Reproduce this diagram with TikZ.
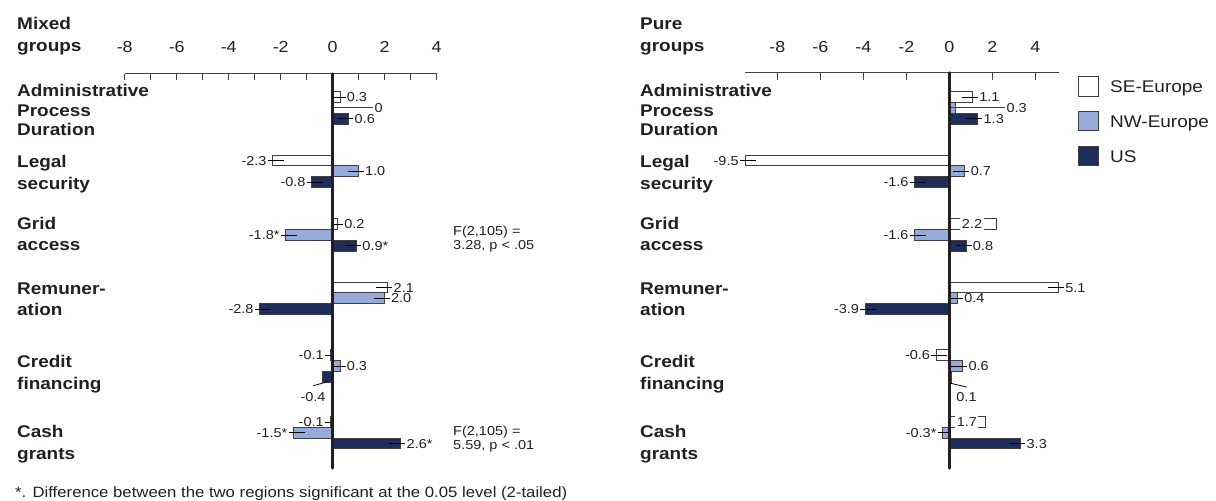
\documentclass[tikz,border=0pt]{standalone}
\usepackage{fontspec}
\setmainfont{Liberation Sans}[FakeStretch=1.12]
\definecolor{ink}{RGB}{35,31,32}
\definecolor{nwfill}{RGB}{150,171,217}
\definecolor{usfill}{RGB}{30,45,92}
\definecolor{edge}{RGB}{64,64,64}
\tikzset{
 cat/.style={font=\fontsize{17}{20}\selectfont\bfseries, text=ink, anchor=base west, inner sep=0pt},
 ticklab/.style={font=\fontsize{16}{19}\selectfont, text=ink, anchor=base, inner sep=0pt},
 vlab/.style={font=\fontsize{13}{15}\selectfont, text=ink, inner sep=1pt, text height=9.3bp, text depth=0pt},
 barbox/.style={draw=edge, line width=1bp},
 leader/.style={draw=black, line width=0.8bp},
 zeroline/.style={draw=ink, line width=3.5bp, line cap=round},
 axisline/.style={draw=ink!85, line width=1bp},
 legtext/.style={font=\fontsize{17}{20}\selectfont, text=ink, anchor=base west, inner sep=0pt},
 note/.style={font=\fontsize{13}{15}\selectfont, text=ink, anchor=base west, inner sep=0pt},
 foot/.style={font=\fontsize{15}{18}\selectfont, text=ink, anchor=base west, inner sep=0pt},
}
% #1 x0, #2 scale, #3 ytop, #4 value, #5 fill, #6 label
\newcommand\posbar[6]{%
 \pgfmathsetmacro\xe{#1+#2*#4}%
 \pgfmathsetmacro\xi{max(#1,\xe-11)}%
 \pgfmathsetmacro\yc{#3+5.35}%
 \draw[barbox,fill=#5] (#1,#3) rectangle (\xe,#3+10.7);
 \draw[leader] (\xi,\yc) -- (\xe+5,\yc) node[vlab,anchor=west]{#6};
}
\newcommand\negbar[6]{%
 \pgfmathsetmacro\xe{#1+#2*#4}%
 \pgfmathsetmacro\xi{min(#1,\xe+11)}%
 \pgfmathsetmacro\yc{#3+5.35}%
 \draw[barbox,fill=#5] (#1,#3) rectangle (\xe,#3+10.7);
 \draw[leader] (\xi,\yc) -- (\xe-5,\yc) node[vlab,anchor=east]{#6};
}
\newcommand\inbar[6]{%
 \pgfmathsetmacro\xe{#1+#2*#4}%
 \pgfmathsetmacro\xm{#1+0.48*#2*#4}%
 \pgfmathsetmacro\yc{#3+5.35}%
 \draw[barbox,fill=#5] (#1,#3) rectangle (\xe,#3+10.7);
 \node[vlab,fill=white,inner xsep=1.5bp,inner ysep=1.8bp] at (\xm,\yc) {#6};
}
\begin{document}
\begin{tikzpicture}[x=1bp,y=-1bp]
\useasboundingbox (0,0) rectangle (1216,501);

% ---------------- left chart ----------------
\node[cat] (ltitle1) at (17,29.3) {Mixed};
\node[cat] (ltitle2) at (17,51.3) {groups};
\draw[axisline] (124.7,74) -- (436.7,74);
\foreach \v in {-8,...,4} \draw[axisline] (332.7+26*\v,74) -- ++(0,6);
\foreach \v in {-8,-6,...,4} \node[ticklab] at (332.7+26*\v,52.5) {\v};

\node[cat] (la1) at (17,96.8) {Administrative};
\node[cat] (la2) at (17,116.3) {Process};
\node[cat] (la3) at (17,135.6) {Duration};
\node[cat] (ll1) at (17,167.8) {Legal};
\node[cat] (ll2) at (17,189.3) {security};
\node[cat] (lg1) at (17,229.1) {Grid};
\node[cat] (lg2) at (17,250.6) {access};
\node[cat] (lr1) at (17,294.1) {Remuner-};
\node[cat] (lr2) at (17,315.6) {ation};
\node[cat] (lc1) at (17,367.8) {Credit};
\node[cat] (lc2) at (17,389.3) {financing};
\node[cat] (lk1) at (17,437.8) {Cash};
\node[cat] (lk2) at (17,459.3) {grants};

\posbar{332.7}{26}{92}{0.3}{white}{0.3}
\draw[leader,draw=edge,line width=1bp] (332.7,108) -- (373,108) node[vlab,anchor=west] (lzero) {0};
\posbar{332.7}{26}{113.4}{0.6}{usfill}{0.6}

\negbar{332.7}{26}{155.3}{-2.3}{white}{-2.3}
\posbar{332.7}{26}{166}{1.0}{nwfill}{1.0}
\negbar{332.7}{26}{176.7}{-0.8}{usfill}{-0.8}

\posbar{332.7}{26}{219}{0.2}{white}{0.2}
\negbar{332.7}{26}{229.7}{-1.8}{nwfill}{-1.8*}
\posbar{332.7}{26}{240.4}{0.9}{usfill}{0.9*}

\posbar{332.7}{26}{282.3}{2.1}{white}{2.1}
\posbar{332.7}{26}{293}{2.0}{nwfill}{2.0}
\negbar{332.7}{26}{303.7}{-2.8}{usfill}{-2.8}

\negbar{332.7}{26}{350}{-0.1}{white}{-0.1}
\posbar{332.7}{26}{360.7}{0.3}{nwfill}{0.3}
\draw[barbox,fill=usfill] (332.7,371.4) rectangle (322.3,382.1);
\node[vlab] (lneg04) at (313,396.5) {-0.4};
\draw[leader] (327.7,381.7) -- (313.3,385.7);

\negbar{332.7}{26}{416.7}{-0.1}{white}{-0.1}
\negbar{332.7}{26}{427.4}{-1.5}{nwfill}{-1.5*}
\posbar{332.7}{26}{438.1}{2.6}{usfill}{2.6*}

\draw[zeroline] (332.7,74) -- (332.7,468);

\node[note] (lf1) at (453,235.2) {F(2,105) =};
\node[note] (lf2) at (453,249.2) {3.28, p < .05};
\node[note] (lf3) at (453,435.2) {F(2,105) =};
\node[note] (lf4) at (453,449.2) {5.59, p < .01};

% ---------------- right chart ----------------
\node[cat] (rtitle1) at (640,29.3) {Pure};
\node[cat] (rtitle2) at (640,51.3) {groups};
\draw[axisline] (745,73) -- (1059,73);
\foreach \v in {-8,-6,...,4} {
  \draw[axisline] (949.3+21.5*\v,73) -- ++(0,7);
  \node[ticklab] at (949.3+21.5*\v,52.5) {\v};
}

\node[cat] (ra1) at (640,96.8) {Administrative};
\node[cat] (ra2) at (640,116.3) {Process};
\node[cat] (ra3) at (640,135.6) {Duration};
\node[cat] (rl1) at (640,167.8) {Legal};
\node[cat] (rl2) at (640,189.3) {security};
\node[cat] (rg1) at (640,229.1) {Grid};
\node[cat] (rg2) at (640,250.6) {access};
\node[cat] (rr1) at (640,294.1) {Remuner-};
\node[cat] (rr2) at (640,315.6) {ation};
\node[cat] (rc1) at (640,367.8) {Credit};
\node[cat] (rc2) at (640,389.3) {financing};
\node[cat] (rk1) at (640,437.8) {Cash};
\node[cat] (rk2) at (640,459.3) {grants};

\posbar{949.3}{21.5}{92}{1.1}{white}{1.1}
\draw[barbox,fill=nwfill] (949.3,102.7) rectangle (955.75,113.4);
\draw[leader,draw=edge,line width=1bp] (951,108) -- (1005,108) node[vlab,anchor=west] (rnw03) {0.3};
\posbar{949.3}{21.5}{113.4}{1.3}{usfill}{1.3}

\negbar{949.3}{21.5}{155.3}{-9.5}{white}{-9.5}
\posbar{949.3}{21.5}{166}{0.7}{nwfill}{0.7}
\negbar{949.3}{21.5}{176.7}{-1.6}{usfill}{-1.6}

\inbar{949.3}{21.5}{219}{2.2}{white}{2.2}
\negbar{949.3}{21.5}{229.7}{-1.6}{nwfill}{-1.6}
\posbar{949.3}{21.5}{240.4}{0.8}{usfill}{0.8}

\posbar{949.3}{21.5}{282.3}{5.1}{white}{5.1}
\posbar{949.3}{21.5}{293}{0.4}{nwfill}{0.4}
\negbar{949.3}{21.5}{303.7}{-3.9}{usfill}{-3.9}

\negbar{949.3}{21.5}{350}{-0.6}{white}{-0.6}
\posbar{949.3}{21.5}{360.7}{0.6}{nwfill}{0.6}
\draw[barbox,fill=usfill] (949.3,371.4) rectangle (951.45,382.1);
\node[vlab] (rpos01) at (966.5,397) {0.1};
\draw[leader] (950.8,383.3) -- (966.8,387.1);

\inbar{949.3}{21.5}{416.7}{1.7}{white}{1.7}
\negbar{949.3}{21.5}{427.4}{-0.3}{nwfill}{-0.3*}
\posbar{949.3}{21.5}{438.1}{3.3}{usfill}{3.3}

\draw[zeroline] (949.3,73) -- (949.3,468);

% ---------------- legend ----------------
\draw[barbox,fill=white] (1078.3,77) rectangle (1098.7,96.5);
\draw[barbox,fill=nwfill] (1078.3,111.5) rectangle (1098.7,131);
\draw[barbox,fill=usfill] (1078.3,146.5) rectangle (1098.7,166);
\node[legtext] (lgse) at (1110,92.6) {SE-Europe};
\node[legtext] (lgnw) at (1110,127.1) {NW-Europe};
\node[legtext] (lgus) at (1110,162.1) {US};

% ---------------- footnote ----------------
\node[foot] (footnote) at (15,497) {*. Difference between the two regions significant at the 0.05 level (2-tailed)};
\end{tikzpicture}
\end{document}
